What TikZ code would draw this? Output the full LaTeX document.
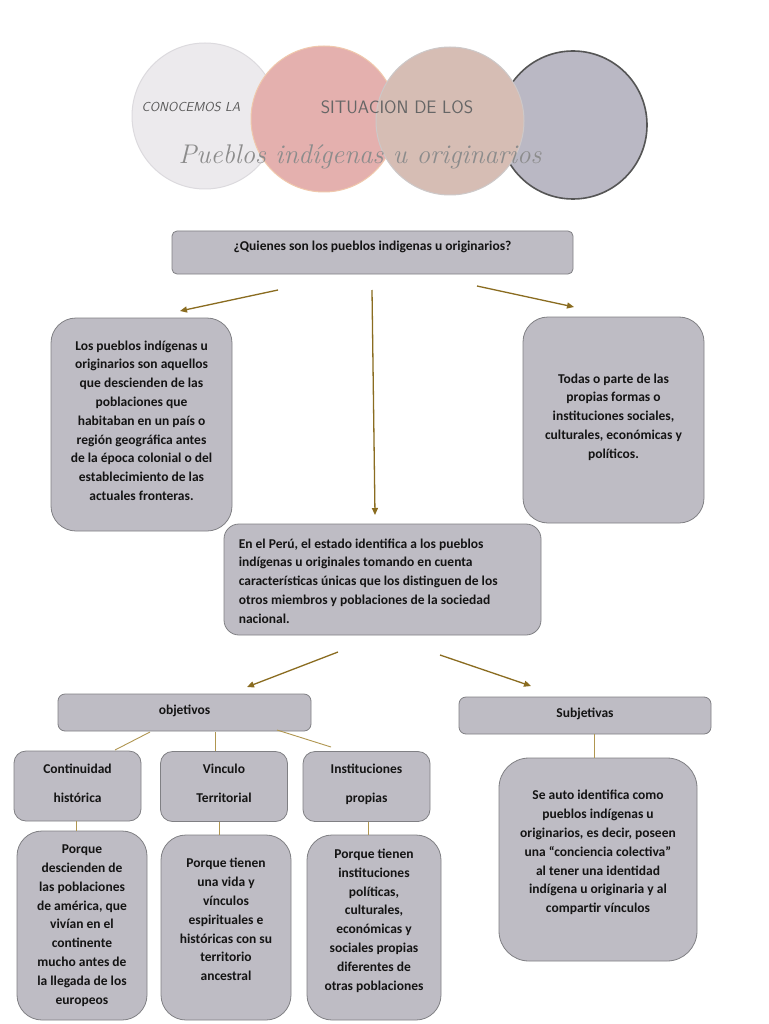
\documentclass[tikz,border=0pt]{standalone}
\usepackage{fontspec}
\newfontfamily\cbf{Carlito}
\usetikzlibrary{arrows.meta}
\definecolor{boxfill}{RGB}{190,188,196}
\definecolor{boxline}{RGB}{128,128,132}
\definecolor{arr}{RGB}{138,108,32}
\definecolor{lnk}{RGB}{176,150,80}
\definecolor{txt}{RGB}{20,20,20}
\definecolor{cA}{RGB}{236,234,237}
\definecolor{cAl}{RGB}{220,218,222}
\definecolor{cB}{RGB}{228,176,174}
\definecolor{cBl}{RGB}{240,200,172}
\definecolor{cC}{RGB}{214,189,180}
\definecolor{cCl}{RGB}{205,200,200}
\definecolor{cD}{RGB}{186,184,196}
\definecolor{cDl}{RGB}{85,85,85}
\tikzset{
  box/.style={draw=boxline, fill=boxfill, line width=0.8pt, text=txt,
    font=\cbf\bfseries\fontsize{13.5}{18.8}\selectfont, align=center, inner sep=0pt},
  arrowln/.style={draw=arr, line width=1.3pt, -{Triangle[length=7pt,width=6pt]}},
  linkln/.style={draw=lnk, line width=0.9pt},
  circ/.style={circle, line width=1pt, inner sep=0pt}
}
\begin{document}
\begin{tikzpicture}[x=1pt,y=-1pt]
\useasboundingbox (0,0) rectangle (768,1024);
\fill[white] (0,0) rectangle (768,1024);
% header circles
\node[circ, fill=cA, draw=cAl, minimum size=146pt] (k1) at (205,116) {};
\node[circ, fill=cB, draw=cBl, minimum size=146pt] (k2) at (324,119) {};
\node[circ, fill=cD, draw=cDl, line width=1.6pt, minimum size=148pt] (k4) at (573,125) {};
\node[circ, fill=cC, draw=cCl, minimum size=148pt] (k3) at (450,121) {};
\node[font=\sffamily\itshape\fontsize{13}{13}\selectfont, text=black!65] (t1) at (191,107) {CONOCEMOS LA};
\node[font=\sffamily\fontsize{18}{18}\selectfont, text=black!60] (t2) at (397,107) {SITUACION DE LOS};
\node[font=\itshape\fontsize{27}{27}\selectfont, text=black!45] (t3) at (360,157) {Pueblos indígenas u originarios};
% question box
\node[box, rounded corners=5pt, minimum width=401pt, minimum height=43pt, text depth=14pt,
  font=\cbf\bfseries\fontsize{13.5}{14}\selectfont] (q) at (372.5,252.5)
  {¿Quienes son los pueblos indigenas u originarios?};
% left and right boxes
\node[box, rounded corners=25pt, minimum width=181pt, minimum height=213pt, text depth=8pt] (def) at (141.5,424.5)
  {Los pueblos indígenas u\\originarios son aquellos\\que descienden de las\\poblaciones que\\habitaban en un país o\\región geográfica antes\\de la época colonial o del\\establecimiento de las\\actuales fronteras.};
\node[box, rounded corners=25pt, minimum width=181pt, minimum height=206pt, text depth=8pt] (form) at (613.5,420)
  {Todas o parte de las\\propias formas o\\instituciones sociales,\\culturales, económicas y\\políticos.};
% middle box
\node[box, rounded corners=15pt, minimum width=317pt, minimum height=111pt] (peru) at (382.5,579.5) {};
\node[font=\cbf\bfseries\fontsize{13.5}{18.8}\selectfont, text=txt, align=left, inner sep=0pt, anchor=west] (perutxt) at ([xshift=15pt,yshift=-1.5pt]peru.west)
  {En el Perú, el estado identifica a los pueblos\\indígenas u originales tomando en cuenta\\características únicas que los distinguen de los\\otros miembros y poblaciones de la sociedad\\nacional.};
% objetivos / subjetivas
\node[box, rounded corners=7pt, minimum width=253pt, minimum height=37pt, text depth=6pt] (obj) at (184.5,712.5) {objetivos};
\node[box, rounded corners=7pt, minimum width=252pt, minimum height=37pt, text depth=6pt] (subj) at (585,715.5) {Subjetivas};
% three category boxes
\tikzset{cat/.style={box, rounded corners=12pt, minimum width=127pt, minimum height=70pt, text depth=6pt, font=\cbf\bfseries\fontsize{13.5}{29}\selectfont}}
\node[cat] (cont) at (77.5,786) {Continuidad\\histórica};
\node[cat] (vinc) at (224,786.5) {Vinculo\\Territorial};
\node[cat] (inst) at (366.5,786.5) {Instituciones\\propias};
% bottom boxes
\node[box, rounded corners=25pt, minimum width=130pt, minimum height=189pt] (b1) at (82,925.5)
  {Porque\\descienden de\\las poblaciones\\de américa, que\\vivían en el\\continente\\mucho antes de\\la llegada de los\\europeos};
\node[box, rounded corners=25pt, minimum width=130pt, minimum height=185pt, text depth=16pt] (b2) at (226,927.5)
  {Porque tienen\\una vida y\\vínculos\\espirituales e\\históricas con su\\territorio\\ancestral};
\node[box, rounded corners=25pt, minimum width=134pt, minimum height=185pt, text depth=16pt] (b3) at (374,927.5)
  {Porque tienen\\instituciones\\políticas,\\culturales,\\económicas y\\sociales propias\\diferentes de\\otras poblaciones};
\node[box, rounded corners=30pt, minimum width=198pt, minimum height=203pt, text depth=16pt] (sb) at (598,859.5)
  {Se auto identifica como\\pueblos indígenas u\\originarios, es decir, poseen\\una “conciencia colectiva”\\al tener una identidad\\indígena u originaria y al\\compartir vínculos};
% arrow end points
\coordinate (a1s) at (278,290); \coordinate (a1e) at (180,311);
\coordinate (a2s) at (372,290); \coordinate (a2e) at (375,515);
\coordinate (a3s) at (477,286); \coordinate (a3e) at (574,307);
\coordinate (a4s) at (338,652); \coordinate (a4e) at (247,687);
\coordinate (a5s) at (440,655); \coordinate (a5e) at (531,686);
\draw[arrowln] (a1s) -- (a1e);
\draw[arrowln] (a2s) -- (a2e);
\draw[arrowln] (a3s) -- (a3e);
\draw[arrowln] (a4s) -- (a4e);
\draw[arrowln] (a5s) -- (a5e);
% links
\coordinate (l1s) at (150,732); \coordinate (l1e) at (115,750);
\coordinate (l2s) at (215,732); \coordinate (l2e) at (215,751);
\coordinate (l3s) at (277,730); \coordinate (l3e) at (331,747);
\draw[linkln] (l1s) -- (l1e);
\draw[linkln] (l2s) -- (l2e);
\draw[linkln] (l3s) -- (l3e);
\draw[linkln] ([xshift=-1.5pt]cont.south) -- ([xshift=-1.5pt]cont.south |- b1.north);
\draw[linkln] ([xshift=-5pt]vinc.south) -- ([xshift=-5pt]vinc.south |- b2.north);
\draw[linkln] ([xshift=1.5pt]inst.south) -- ([xshift=1.5pt]inst.south |- b3.north);
\draw[linkln] ([xshift=-4pt]sb.north |- subj.south) -- ([xshift=-4pt]sb.north);
\end{tikzpicture}
\end{document}
